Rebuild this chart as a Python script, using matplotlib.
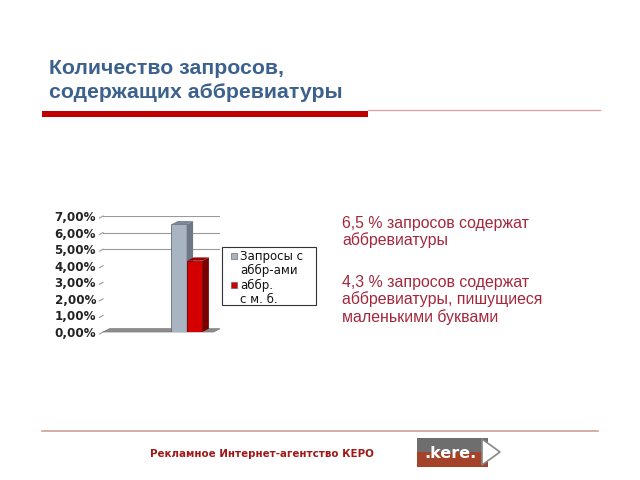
import matplotlib
matplotlib.use("Agg")
import matplotlib.pyplot as plt
from matplotlib.patches import Polygon, Rectangle

series = ["Запросы с\nаббр-ами", "аббр.\nс м. б."]
values = [6.5, 4.3]
yticks = [0, 1, 2, 3, 4, 5, 6, 7]
ytick_labels = ["0,00%", "1,00%", "2,00%", "3,00%", "4,00%", "5,00%", "6,00%", "7,00%"]
title_lines = ["Количество запросов,", "содержащих аббревиатуры"]
notes = ["6,5 % запросов содержат\nаббревиатуры",
         "4,3 % запросов содержат\nаббревиатуры, пишущиеся\nмаленькими буквами"]
footer = "Рекламное Интернет-агентство КЕРО"

face_colors = ["#a9b4c2", "#d40000"]
side_colors = ["#6d7785", "#7a0000"]
top_colors = ["#7d8896", "#9a0000"]

W, H = 640, 480
fig = plt.figure(figsize=(6.4, 4.8), dpi=100)
fig.patch.set_facecolor("white")

# overlay in pixel coordinates
ov = fig.add_axes([0, 0, 1, 1])
ov.set_xlim(0, W)
ov.set_ylim(H, 0)
ov.axis("off")

title_color = "#3c618c"
ov.text(49, 68, title_lines[0], color=title_color, fontsize=15.3, fontweight="bold",
        va="center", ha="left", family="Liberation Sans")
ov.text(49, 93, title_lines[1], color=title_color, fontsize=15.3, fontweight="bold",
        va="center", ha="left", family="Liberation Sans")
ov.add_patch(Rectangle((42, 110.5), 326, 6.5, color="#c00000", lw=0))
ov.plot([368, 600], [109.5, 109.5], color="#e0a0a0", lw=0.9)

note_color = "#a3283c"
ov.text(342, 216, notes[0], color=note_color, fontsize=11.4, va="top", ha="left",
        linespacing=1.12, family="Liberation Sans")
ov.text(342, 275, notes[1], color=note_color, fontsize=11.4, va="top", ha="left",
        linespacing=1.12, family="Liberation Sans")

# footer
ov.plot([42, 598], [431, 431], color="#cf9f98", lw=1.2)
ov.text(150, 454, footer, color="#a01818", fontsize=7.4, fontweight="bold",
        va="center", ha="left", family="DejaVu Sans")
# logo tag
ov.add_patch(Polygon([(417, 438), (488, 438), (488, 452), (417, 452)], closed=True,
                     color="#6e6e6e", lw=0))
ov.add_patch(Polygon([(417, 452), (488, 452), (488, 467), (417, 467)], closed=True,
                     color="#a4422a", lw=0))
ov.add_patch(Polygon([(482, 439), (500, 452), (482, 465)], closed=True,
                     facecolor="white", edgecolor="#888888", lw=1.2))
ov.text(451, 453, ".kere.", color="white", fontsize=11.5, fontweight="bold",
        va="center", ha="center", family="DejaVu Sans")

# chart axes
x0, x1 = 103, 220
ytop, ybot = 216, 332
ax = fig.add_axes([x0 / W, (H - ybot) / H, (x1 - x0) / W, (ybot - ytop) / H])
ax.set_xlim(0, 1)
ax.set_ylim(0, 7)
ax.patch.set_alpha(0)
for s in ax.spines.values():
    s.set_visible(False)
ax.set_xticks([])
ax.set_yticks(yticks)
ax.set_yticklabels(ytick_labels, fontsize=8.6, fontweight="bold", color="#222222",
                   family="DejaVu Sans")
ax.tick_params(axis="y", length=0, pad=5)

for v in yticks:
    if v >= 5:
        ax.plot([0, 1], [v, v], color="#9a9a9a", lw=0.8, zorder=1)
    ax.plot([-0.03, 0.0], [v - 0.12, v], color="#9a9a9a", lw=0.8, clip_on=False, zorder=1)

# floor
dx, dy = 0.055, 0.2
ax.add_patch(Polygon([(0.0, 0.0), (1.0 - dx, 0.0), (1.0, dy), (dx, dy)], closed=True,
                     facecolor="#8c8c8c", edgecolor="#777777", lw=0.5,
                     clip_on=False, zorder=2))

lefts = [0.585, 0.72]
width = 0.13
for i, (v, l) in enumerate(zip(values, lefts)):
    ax.bar(l, v, width=width, align="edge", color=face_colors[i],
           edgecolor="#555555" if i == 0 else "#600000", lw=0.5, zorder=3 + i)
    ax.add_patch(Polygon([(l + width, 0), (l + width + dx, dy), (l + width + dx, v + dy),
                          (l + width, v)], closed=True, facecolor=side_colors[i],
                         edgecolor="none", zorder=3 + i, clip_on=False))
    ax.add_patch(Polygon([(l, v), (l + width, v), (l + width + dx, v + dy), (l + dx, v + dy)],
                         closed=True, facecolor=top_colors[i], edgecolor="none",
                         zorder=3 + i, clip_on=False))

# legend
ov.add_patch(Rectangle((222, 247), 94, 58, facecolor="white", edgecolor="#333333", lw=0.8))
leg_y = [250, 279]
for i, name in enumerate(series):
    ov.add_patch(Rectangle((231, leg_y[i] + 3), 6, 6, facecolor=face_colors[i],
                           edgecolor="#555555", lw=0.4))
    ov.text(240, leg_y[i], name, fontsize=8.5, va="top", ha="left",
            linespacing=1.1, color="#111111", family="DejaVu Sans")

fig.savefig("out.png", dpi=100, facecolor="white")
